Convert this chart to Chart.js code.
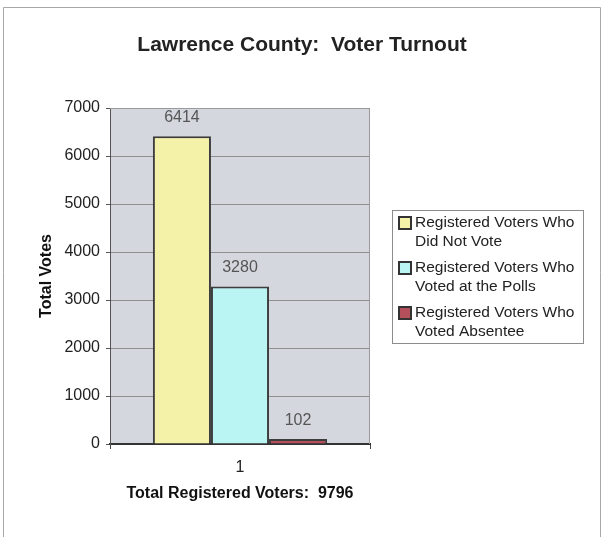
<!DOCTYPE html>
<html>
<head>
<meta charset="utf-8">
<script src="https://cdn.jsdelivr.net/npm/chart.js@4"></script>
<style>
  html, body { margin: 0; padding: 0; background: #fff; }
  canvas { display: block; }
</style>
</head>
<body>
<canvas id="turnout-chart" width="605" height="537"></canvas>
<script>
// --- data ---
const categories = ['1'];
const didNotVote = [6414];
const votedAtPolls = [3280];
const votedAbsentee = [102];
const seriesLabels = [
    ['Registered Voters Who', 'Did Not Vote'],
    ['Registered Voters Who', 'Voted at the Polls'],
    ['Registered Voters Who', 'Voted Absentee']
];
const yMin = 0, yMax = 7000, yStep = 1000;
const chartTitle = 'Lawrence County:  Voter Turnout';
const yTitle = 'Total Votes';
const xTitle = 'Total Registered Voters:  9796';

const FONT = 'Arial, "Liberation Sans", sans-serif';
const seriesColors = ['#F4F1A9', '#BAF5F4', '#B3505C'];

// page frame + grey plot area
const backdrop = {
    id: 'backdrop',
    beforeDraw(chart) {
        const { ctx, chartArea: a } = chart;
        ctx.save();
        ctx.fillStyle = '#fff';
        ctx.fillRect(0, 0, chart.width, chart.height);
        ctx.strokeStyle = '#a8a8a8';
        ctx.lineWidth = 1;
        ctx.beginPath();
        ctx.moveTo(3.5, chart.height);
        ctx.lineTo(3.5, 7.5);
        ctx.lineTo(600.5, 7.5);
        ctx.lineTo(600.5, chart.height);
        ctx.stroke();
        ctx.fillStyle = '#D4D7DD';
        ctx.fillRect(a.left, a.top, a.right - a.left, a.bottom - a.top);
        ctx.restore();
    },
    afterDatasetsDraw(chart) {
        const { ctx, chartArea: a } = chart;
        ctx.save();
        // plot frame (top / right)
        ctx.strokeStyle = '#9a9a9a';
        ctx.lineWidth = 1;
        ctx.beginPath();
        ctx.moveTo(a.left, a.top + 0.5);
        ctx.lineTo(a.right - 0.5, a.top + 0.5);
        ctx.lineTo(a.right - 0.5, a.bottom);
        ctx.stroke();
        // value labels above each bar
        ctx.fillStyle = '#555';
        ctx.font = '16px ' + FONT;
        ctx.textAlign = 'center';
        ctx.textBaseline = 'middle';
        chart.data.datasets.forEach((ds, i) => {
            chart.getDatasetMeta(i).data.forEach((bar, j) => {
                ctx.fillText(String(ds.data[j]), bar.x, bar.y - 19);
            });
        });
        ctx.restore();
    }
};

// title and boxed legend on the right
const decorations = {
    id: 'decorations',
    afterDraw(chart) {
        const { ctx } = chart;
        ctx.save();
        ctx.fillStyle = '#222';
        ctx.font = 'bold 21px ' + FONT;
        ctx.textAlign = 'center';
        ctx.textBaseline = 'middle';
        ctx.fillText(chartTitle, 302, 45);

        // legend box
        ctx.strokeStyle = '#8c8c8c';
        ctx.lineWidth = 1;
        ctx.strokeRect(392.5, 210.5, 191, 133);
        ctx.font = '15.5px ' + FONT;
        ctx.textAlign = 'left';
        chart.data.datasets.forEach((ds, i) => {
            const y0 = 223 + i * 45;
            ctx.fillStyle = ds.backgroundColor;
            ctx.fillRect(399, y0 - 6, 12, 12);
            ctx.strokeStyle = '#333';
            ctx.lineWidth = 2;
            ctx.strokeRect(399, y0 - 6, 12, 12);
            ctx.fillStyle = '#222';
            ds.label.forEach((line, k) => ctx.fillText(line, 415, y0 + k * 19));
        });
        ctx.restore();
    }
};

const datasets = [didNotVote, votedAtPolls, votedAbsentee].map((values, i) => ({
    label: seriesLabels[i],
    data: values,
    backgroundColor: seriesColors[i],
    borderColor: '#3d3d3d',
    borderWidth: 2,
    categoryPercentage: 0.67,
    barPercentage: 1
}));

new Chart(document.getElementById('turnout-chart'), {
    type: 'bar',
    data: { labels: categories, datasets },
    options: {
        responsive: false,
        animation: false,
        layout: { padding: { top: 108, right: 235, left: 0, bottom: 0 } },
        plugins: {
            legend: { display: false },
            title: { display: false },
            tooltip: { enabled: false }
        },
        scales: {
            x: {
                afterFit: s => { s.height = 93; },
                grid: { display: true, drawOnChartArea: false, offset: true, tickLength: 5, color: '#444' },
                border: { color: '#333', width: 2 },
                ticks: { color: '#222', padding: 9, font: { family: FONT, size: 16 } },
                title: {
                    display: true, text: xTitle, color: '#111',
                    font: { family: FONT, size: 16, weight: 'bold' },
                    padding: { top: 0, bottom: 34 }
                }
            },
            y: {
                min: yMin,
                max: yMax,
                afterFit: s => { s.width = 110; },
                grid: { color: '#8e8e8e', tickLength: 4, tickColor: '#555' },
                border: { color: '#555', width: 1 },
                ticks: {
                    stepSize: yStep, color: '#222', padding: 6,
                    font: { family: FONT, size: 16 },
                    callback: v => String(v)
                },
                title: {
                    display: true, text: yTitle, color: '#111',
                    font: { family: FONT, size: 16, weight: 'bold' },
                    padding: { top: 37, bottom: 0 }
                }
            }
        }
    },
    plugins: [backdrop, decorations]
});
</script>
</body>
</html>
